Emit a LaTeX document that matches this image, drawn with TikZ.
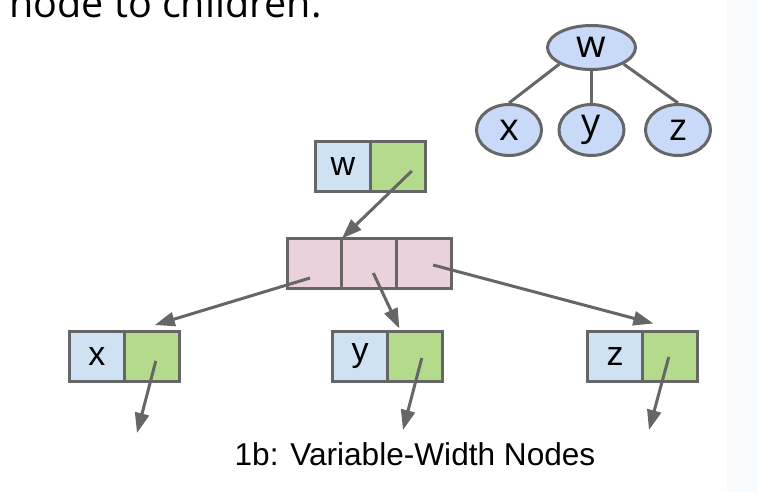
\documentclass[tikz,border=0pt]{standalone}
\usepackage{fontspec}
\setmainfont{Liberation Sans}
\newfontfamily\slidefont{Open Sans}
\usepackage{tikz}
\usetikzlibrary{positioning,calc,shapes.geometric,arrows.meta}
\definecolor{linegray}{HTML}{666666}
\definecolor{treeblue}{HTML}{C9DAF8}
\definecolor{keyblue}{HTML}{CFE2F3}
\definecolor{ptrgreen}{HTML}{B4DA8C}
\definecolor{arrpink}{HTML}{EAD1DC}
\definecolor{stripgray}{HTML}{F8F9FA}

\begin{document}
\begin{tikzpicture}
  [x=0.5pt,y=-0.5pt,
   tree/.style={ellipse,draw=linegray,fill=treeblue,line width=1.5pt,inner sep=0,
                minimum width=32.5pt,minimum height=25.5pt,
                font=\slidefont\fontsize{19pt}{20pt}\selectfont},
   key/.style={rectangle,draw=linegray,fill=keyblue,line width=1.5pt,outer sep=0,
               minimum width=27.4pt,minimum height=25pt,inner sep=0,
               font=\fontsize{17pt}{18pt}\selectfont},
   ptr/.style={rectangle,draw=linegray,fill=ptrgreen,line width=1.5pt,outer sep=0,
               minimum width=27.4pt,minimum height=25pt,inner sep=0},
   slot/.style={rectangle,draw=linegray,fill=arrpink,line width=1.5pt,outer sep=0,
                minimum width=27.4pt,minimum height=25pt,inner sep=0},
   edge/.style={draw=linegray,line width=1.5pt},
   link/.style={draw=linegray,line width=1.5pt,-{Triangle[length=10pt,width=7pt]}}]
  \fill[white] (0,0) rectangle (757,492);
  \fill[stripgray] (727,0) rectangle (757,492);
  \useasboundingbox (0,0) rectangle (757,492);
  % heading cut off at the top
  \node[anchor=base west,inner sep=0,font=\slidefont\fontsize{19.75pt}{22pt}\selectfont] (head) at (9,18) {node to children.};
  % the tree
  \node[tree,minimum width=44pt,minimum height=22pt] (tw) at (591.5,47.5) {w};
  \node[tree] (tx) at (509,130) {x};
  \node[tree] (ty) at (591.5,130) {y};
  \node[tree] (tz) at (678,130) {z};
  \draw[edge] (tw.south west) -- (tx.north);
  \draw[edge] (tw.south) -- (ty.north);
  \draw[edge] (tw.south east) -- (tz.north);
  % variable-width nodes
  \node[key] (wk) at (343,167) {w};
  \node[ptr] (wp) [right=0pt of wk] {};
  \node[slot] (p1) at (314.5,263.5) {};
  \node[slot] (p2) [right=0pt of p1] {};
  \node[slot] (p3) [right=0pt of p2] {};
  \node[key] (xk) at (97,357) {x};
  \node[ptr] (xp) [right=0pt of xk] {};
  \node[key] (yk) at (360,356.5) {y};
  \node[ptr] (yp) [right=0pt of yk] {};
  \node[key] (zk) at (615,356.5) {z};
  \node[ptr] (zp) [right=0pt of zk] {};
  \coordinate (xe) at (137,433);
  \coordinate (ye) at (403,430);
  \coordinate (ze) at (649,430);
  \draw[link] ($(wp.center)+(14,4)$) to (p1.north east);
  \draw[link] ($(p1.center)+(-4.5,14.5)$) to ($(xp.north)+(3,-7)$);
  \draw[link] ($(p2.center)+(4,9.5)$) to ($(yp.north west)+(12,-3)$);
  \draw[link] ($(p3.center)+(9,1.5)$) to ($(zp.north west)+(11,-8)$);
  \draw[link] ($(xp.center)+(4,4)$) to (xe);
  \draw[link] ($(yp.center)+(7,1.5)$) to (ye);
  \draw[link] ($(zp.center)+(-1,0.5)$) to (ze);
  \node[anchor=base,inner sep=0,font=\fontsize{15.8pt}{18pt}\selectfont] (cap) at (415,466) {1b: Variable-Width Nodes};
\end{tikzpicture}
\end{document}
